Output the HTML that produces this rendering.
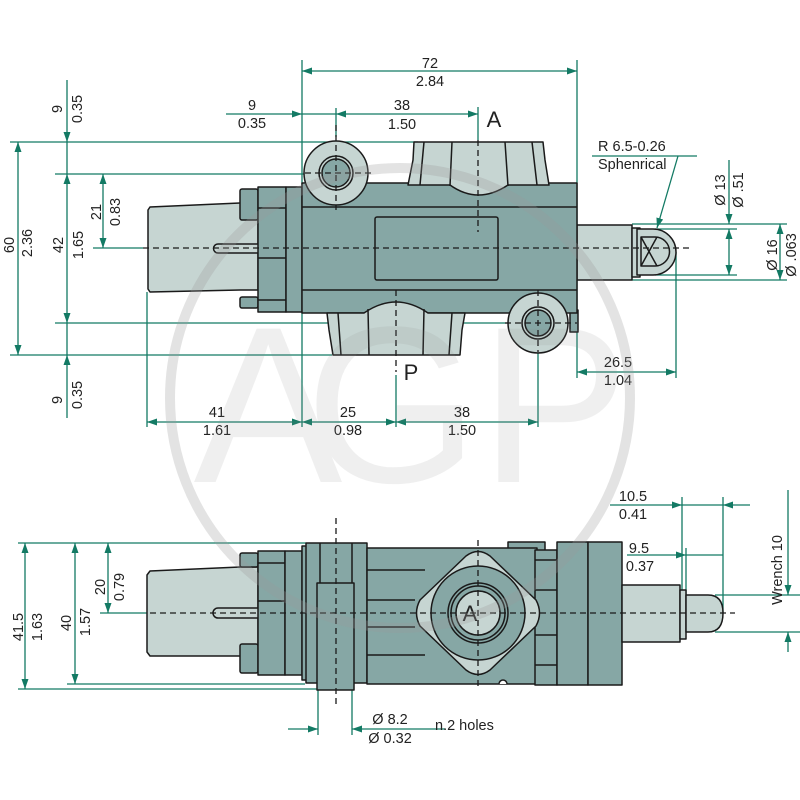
<!DOCTYPE html>
<html><head><meta charset="utf-8"><style>
html,body{margin:0;padding:0;background:#fff;}
svg{display:block}
text{font-family:"Liberation Sans",sans-serif;font-size:14.5px;fill:#222}
</style></head><body>
<svg width="800" height="800" viewBox="0 0 800 800" xmlns="http://www.w3.org/2000/svg">
<defs>
<marker id="a" viewBox="0 0 10 7" refX="10" refY="3.5" markerWidth="10" markerHeight="7" markerUnits="userSpaceOnUse" orient="auto-start-reverse"><path d="M0,0L10,3.5L0,7z" fill="#137a64"/></marker>
</defs>
<rect width="800" height="800" fill="#fff"/>

<!-- green extension lines (behind) -->
<g stroke="#137a64" stroke-width="1.3" fill="none">
<path d="M10,142H418M55,174H306M55,323H512M10,355H332M302,60V427M577,60V378M147,292V427M676,252V378M396,375V427M538,353V427M478,107V140M336,108V137M93,248H143"/>
<path d="M632,224H787M655,229H737M655,275H737M632,280H787"/>
<path d="M18,543H306M18,689H318M67,684H305M100,613H147M318,690V735M352,690V735M682,497V590M723,497V613M686,548V598M715,595H800M715,632H800"/>
</g>

<!-- TOP VIEW BODY -->
<g stroke="#1a1a1a" stroke-width="1.5" stroke-linejoin="round">
<!-- left shaft -->
<path d="M150,207L240,203H258V290H240L150,292L148,289V210Z" fill="#c6d5d2"/>
<path d="M258,244H218A4.5,4.5 0 0 0 218,253H258" fill="#c6d5d2"/>
<rect x="240" y="189" width="18" height="31" rx="2" fill="#86a7a5"/>
<rect x="240" y="297" width="18" height="11" rx="2" fill="#86a7a5"/>
<rect x="258" y="187" width="28" height="125" fill="#86a7a5"/>
<path d="M258,208H286M258,258H286M258,300H286" fill="none"/>
<rect x="286" y="187" width="16" height="125" fill="#86a7a5"/>
<!-- right stem -->
<rect x="577" y="225" width="55" height="55" fill="#c6d5d2"/>
<rect x="632" y="228" width="8" height="49" fill="#c6d5d2"/>
<path d="M637,229H653A23,23 0 0 1 653,275H637Z" fill="#c6d5d2"/>
<path d="M641,237H655A14.5,14.5 0 0 1 655,266H641Z" fill="#c6d5d2"/>
<path d="M641,237L657,266M641,266L657,237" fill="none"/>
<!-- main body -->
<rect x="570" y="310" width="8" height="22" fill="#86a7a5"/>
<rect x="302" y="183" width="275" height="130" fill="#86a7a5"/>
<path d="M302,207H577M302,290H577" fill="none"/>
<rect x="375" y="217" width="123" height="63" rx="2" fill="#86a7a5"/>
<!-- top boss A -->
<path d="M408,185L413,160L414,142H543L545,160L549,185H508Q478,205 450,185Z" fill="#c6d5d2"/>
<path d="M424,142L420,185M452,142L450,186M505,142L508,186M532,142L537,185" fill="none"/>
<!-- bottom P block -->
<path d="M327,313L329,330L333,355H460L462,330L465,313H428Q396,291 364,313Z" fill="#c6d5d2"/>
<path d="M338,313L341,355M368,309L369,355M424,309L423,355M452,313L449,355" fill="none"/>
<!-- left boss -->
<circle cx="336" cy="173" r="32" fill="#c6d5d2"/>
<circle cx="336" cy="173" r="17" fill="#c6d5d2"/>
<circle cx="336" cy="173" r="14" fill="#86a7a5"/>
<!-- right boss -->
<circle cx="538" cy="323" r="30" fill="#c6d5d2"/>
<circle cx="538" cy="323" r="16" fill="#c6d5d2"/>
<circle cx="538" cy="323" r="13" fill="#86a7a5"/>
</g>

<!-- BOTTOM VIEW BODY -->
<g stroke="#1a1a1a" stroke-width="1.5" stroke-linejoin="round">
<path d="M150,571L240,567H258V656H150L147,652V575Z" fill="#c6d5d2"/>
<path d="M258,608H218A5,5 0 0 0 218,618H258" fill="#c6d5d2"/>
<rect x="240" y="553" width="18" height="14" rx="2" fill="#86a7a5"/>
<rect x="240" y="644" width="18" height="29" rx="2" fill="#86a7a5"/>
<rect x="258" y="551" width="27" height="124" fill="#86a7a5"/>
<path d="M258,563H285M258,601H285" fill="none"/>
<rect x="285" y="551" width="17" height="124" fill="#86a7a5"/>
<path d="M302,546H307V680H302Z" fill="#86a7a5"/>
<rect x="306" y="543" width="61" height="140" fill="#86a7a5"/>
<path d="M320,543V683M352,543V683" fill="none"/>
<rect x="317" y="583" width="37" height="107" fill="#86a7a5"/>
<rect x="508" y="542" width="37" height="10" fill="#86a7a5"/>
<rect x="367" y="548" width="170" height="136" fill="#86a7a5"/>
<path d="M367,570H425M367,655H425M367,600H415M367,627H415" fill="none"/>
<path d="M499,684A4,4 0 0 1 507,684" fill="#fff"/>
<rect x="535" y="550" width="22" height="135" fill="#86a7a5"/>
<path d="M535,560H557M535,590H557M535,635H557M535,665H557" fill="none"/>
<rect x="557" y="542" width="31" height="143" fill="#86a7a5"/>
<rect x="588" y="542" width="34" height="143" fill="#86a7a5"/>
<!-- port flange -->
<path d="M420,600Q413,613 420,626L466,670Q478,679 490,670L536,626Q543,613 536,600L490,556Q478,547 466,556Z" fill="#c6d5d2"/>
<circle cx="478" cy="613" r="47" fill="#86a7a5"/>
<circle cx="478" cy="613" r="30" fill="#86a7a5"/>
<circle cx="478" cy="613" r="27" fill="#86a7a5"/>
<circle cx="478" cy="613" r="22" fill="#c6d5d2"/>
<!-- right stem -->
<rect x="622" y="585" width="58" height="57" fill="#c6d5d2"/>
<rect x="680" y="590" width="6" height="49" fill="#c6d5d2"/>
<path d="M686,595H708Q723,595 723,613Q723,632 708,632H686Z" fill="#c6d5d2"/>
</g>
<text x="470" y="621" text-anchor="middle" style="font-size:22px">A</text>

<!-- centerlines -->
<g stroke="#1a1a1a" stroke-width="1.3" stroke-dasharray="6,4" fill="none">
<path d="M143,248H690"/>
<path d="M336,125V210M305,173H372"/>
<path d="M478,140V232"/>
<path d="M396,290V372"/>
<path d="M538,290V352M505,323H577"/>
<path d="M150,613H735"/>
<path d="M336,518V705"/>
<path d="M478,540V690"/>
</g>

<!-- dimension arrows -->
<g stroke="#137a64" stroke-width="1.3" fill="none">
<path d="M302,71H577" marker-start="url(#a)" marker-end="url(#a)"/>
<path d="M336,114H478" marker-start="url(#a)" marker-end="url(#a)"/>
<path d="M226,114H302" marker-end="url(#a)"/>
<path d="M302,114H336"/>
<path d="M18,142V355" marker-start="url(#a)" marker-end="url(#a)"/>
<path d="M67,80V142" marker-end="url(#a)"/>
<path d="M67,142V174M67,323V355"/>
<path d="M67,174V323" marker-start="url(#a)" marker-end="url(#a)"/>
<path d="M67,418V355" marker-end="url(#a)"/>
<path d="M103,174V248" marker-start="url(#a)" marker-end="url(#a)"/>
<path d="M147,422H302" marker-start="url(#a)" marker-end="url(#a)"/>
<path d="M302,422H396" marker-start="url(#a)" marker-end="url(#a)"/>
<path d="M396,422H538" marker-start="url(#a)" marker-end="url(#a)"/>
<path d="M577,372H676" marker-start="url(#a)" marker-end="url(#a)"/>
<path d="M592,156H697"/>
<path d="M678,156L657,228" marker-end="url(#a)"/>
<path d="M729,160V224" marker-end="url(#a)"/>
<path d="M729,229V275" marker-start="url(#a)" marker-end="url(#a)"/>
<path d="M780,224V280" marker-start="url(#a)" marker-end="url(#a)"/>
<path d="M25,543V689" marker-start="url(#a)" marker-end="url(#a)"/>
<path d="M75,543V684" marker-start="url(#a)" marker-end="url(#a)"/>
<path d="M108,543V613" marker-start="url(#a)" marker-end="url(#a)"/>
<path d="M288,729H318" marker-end="url(#a)"/>
<path d="M445,729H352" marker-end="url(#a)"/>
<path d="M610,505H682" marker-end="url(#a)"/>
<path d="M750,505H723" marker-end="url(#a)"/>
<path d="M682,505H723"/>
<path d="M627,555H686" marker-end="url(#a)"/>
<path d="M686,555H723"/>
<path d="M788,490V595" marker-end="url(#a)"/>
<path d="M788,652V632" marker-end="url(#a)"/>
</g>

<!-- horizontal labels -->
<g text-anchor="middle">
<text x="430" y="68">72</text><text x="430" y="86">2.84</text>
<text x="402" y="110">38</text><text x="402" y="129">1.50</text>
<text x="252" y="110">9</text><text x="252" y="128">0.35</text>
<text x="217" y="417">41</text><text x="217" y="435">1.61</text>
<text x="348" y="417">25</text><text x="348" y="435">0.98</text>
<text x="462" y="417">38</text><text x="462" y="435">1.50</text>
<text x="618" y="367">26.5</text><text x="618" y="385">1.04</text>
<text x="633" y="501">10.5</text><text x="633" y="519">0.41</text>
<text x="639" y="553">9.5</text><text x="640" y="571">0.37</text>
<text x="390" y="724">Ø 8.2</text><text x="390" y="743">Ø 0.32</text>
</g>
<text x="494" y="127" text-anchor="middle" style="font-size:22px">A</text>
<text x="411" y="380" text-anchor="middle" style="font-size:22px">P</text>
<text x="598" y="151">R 6.5-0.26</text>
<text x="598" y="169">Sphenrical</text>
<text x="435" y="730">n.2 holes</text>

<!-- rotated labels -->
<g text-anchor="middle">
<text transform="translate(62,109) rotate(-90)">9</text>
<text transform="translate(82,109) rotate(-90)">0.35</text>
<text transform="translate(101,212) rotate(-90)">21</text>
<text transform="translate(120,212) rotate(-90)">0.83</text>
<text transform="translate(14,245) rotate(-90)">60</text>
<text transform="translate(32,243) rotate(-90)">2.36</text>
<text transform="translate(63,245) rotate(-90)">42</text>
<text transform="translate(83,245) rotate(-90)">1.65</text>
<text transform="translate(62,400) rotate(-90)">9</text>
<text transform="translate(82,395) rotate(-90)">0.35</text>
<text transform="translate(725,190) rotate(-90)">Ø 13</text>
<text transform="translate(743,190) rotate(-90)">Ø .51</text>
<text transform="translate(777,255) rotate(-90)">Ø 16</text>
<text transform="translate(796,255) rotate(-90)">Ø .063</text>
<text transform="translate(23,627) rotate(-90)">41.5</text>
<text transform="translate(42,627) rotate(-90)">1.63</text>
<text transform="translate(71,623) rotate(-90)">40</text>
<text transform="translate(90,622) rotate(-90)">1.57</text>
<text transform="translate(105,587) rotate(-90)">20</text>
<text transform="translate(124,587) rotate(-90)">0.79</text>
<text transform="translate(782,570) rotate(-90)">Wrench 10</text>
</g>

<!-- watermark -->
<g opacity="0.28">
<circle cx="400" cy="398" r="230" fill="none" stroke="#9a9a9a" stroke-width="10"/>
</g>
<g opacity="0.13" fill="#8a8a8a" style="font-family:'Liberation Sans',sans-serif;font-size:223px">
<text x="268" y="482" text-anchor="middle" style="font-size:223px;fill:#8a8a8a">A</text>
<text x="392" y="482" text-anchor="middle" style="font-size:223px;fill:#8a8a8a">G</text>
<text x="480" y="482" style="font-size:223px;fill:#8a8a8a">P</text>
</g>
</svg>
</body></html>
